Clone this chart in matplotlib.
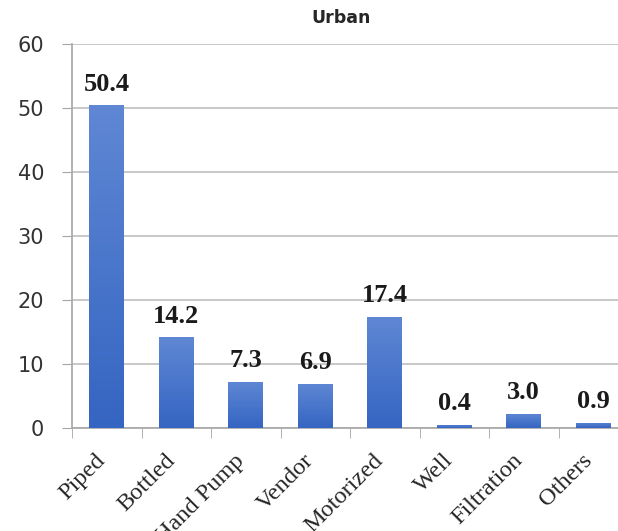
import numpy as np
import matplotlib
matplotlib.use("Agg")
import matplotlib.pyplot as plt
from matplotlib.colors import LinearSegmentedColormap
from matplotlib.transforms import ScaledTranslation

categories = ["Piped", "Bottled", "Hand Pump", "Vendor", "Motorized", "Well", "Filtration", "Others"]
heights = [50.4, 14.2, 7.3, 6.9, 17.4, 0.5, 2.3, 0.8]
labels = ["50.4", "14.2", "7.3", "6.9", "17.4", "0.4", "3.0", "0.9"]
yticks = [0, 10, 20, 30, 40, 50, 60]

fig = plt.figure(figsize=(6.18, 5.31), dpi=100)
ax = fig.add_axes([72 / 618, 1 - 428.3 / 531, 1 - 72 / 618, (428.3 - 44) / 531])

x = np.arange(len(categories))
bars = ax.bar(x, heights, width=0.5, color="none", zorder=3)

# vertical gradient fill, lighter at the top
cmap = LinearSegmentedColormap.from_list("g", ["#3565c2", "#5f87d4"])
grad = np.linspace(0, 1, 256).reshape(-1, 1)
for b in bars:
    x0, y0 = b.get_x(), b.get_y()
    w, h = b.get_width(), b.get_height()
    im = ax.imshow(grad, extent=[x0, x0 + w, y0, y0 + h], origin="lower",
                   cmap=cmap, aspect="auto", zorder=3)
    im.set_clip_path(b)

for xi, h, lab in zip(x, heights, labels):
    ax.annotate(lab, xy=(xi, h), xytext=(0, 7), textcoords="offset points",
                ha="center", va="bottom", fontsize=19, fontweight="bold",
                family="Liberation Serif", color="#1a1a1a")

ax.set_xlim(-0.5, -0.5 + 546 / 69.5)
ax.set_ylim(0, 60)
ax.set_yticks(yticks)
ax.tick_params(axis="y", length=7, color="#a6a6a6", labelsize=15, pad=13, labelcolor="#333333")
ax.set_xticks(x)
ax.set_xticks(np.arange(-0.5, 7, 1), minor=True)
ax.tick_params(axis="x", which="major", length=0, pad=10)
ax.tick_params(axis="x", which="minor", length=7, color="#a6a6a6")
ax.set_xticklabels(categories, rotation=45, ha="right", rotation_mode="anchor",
                   family="Liberation Serif", fontsize=17.5, color="#262626")
# nudge labels so their upper end sits under the bar
shift = ScaledTranslation(-12 / 100, -8 / 100, fig.dpi_scale_trans)
for t in ax.get_xticklabels():
    t.set_transform(t.get_transform() + shift)

ax.grid(axis="y", color="#bfbfbf", lw=1.2, zorder=0)
for s in ["top", "right"]:
    ax.spines[s].set_visible(False)
ax.spines["left"].set_color("#a6a6a6")
ax.spines["bottom"].set_color("#a6a6a6")
ax.spines["left"].set_linewidth(1.2)
ax.spines["bottom"].set_linewidth(1.2)

fig.text(341 / 618, 1 - 18 / 531, "Urban", ha="center", va="center",
         fontsize=12.5, fontweight="bold", color="#262626")

fig.savefig("out.png", dpi=100)
